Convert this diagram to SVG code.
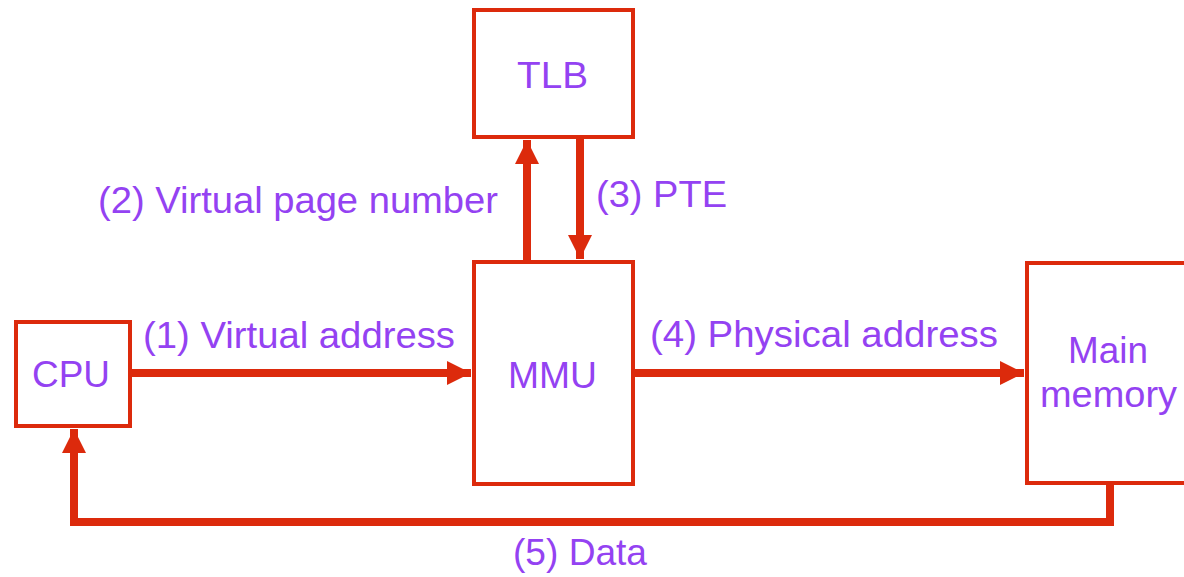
<svg xmlns="http://www.w3.org/2000/svg" width="1184" height="577" viewBox="0 0 1184 577">
<defs>
<style>
.box{fill:#fff;stroke:#dc2a0c;stroke-width:4}
.t{font-family:"Liberation Sans",Arial,sans-serif;font-size:37px;fill:#9442f2}
.c{fill:none;stroke:#dc2a0c;stroke-width:8;stroke-linejoin:miter}
</style>
<marker id="ah" viewBox="0 0 10 10" refX="10" refY="5" markerWidth="3.8" markerHeight="3" orient="auto" markerUnits="strokeWidth">
<path d="M0,0 L10,5 L0,10 Z" fill="#dc2a0c"/>
</marker>
</defs>
<rect width="1184" height="577" fill="#fff"/>
<g id="cpu"><rect class="box" x="16" y="322" width="114" height="104"/><text class="t" x="32" y="387" textLength="78" lengthAdjust="spacingAndGlyphs">CPU</text></g>
<g id="tlb"><rect class="box" x="474" y="10" width="159" height="127"/><text class="t" x="517" y="88" textLength="71" lengthAdjust="spacingAndGlyphs">TLB</text></g>
<g id="mmu"><rect class="box" x="474" y="262" width="159" height="222"/><text class="t" x="508" y="388" textLength="89" lengthAdjust="spacingAndGlyphs">MMU</text></g>
<g id="mem"><rect class="box" x="1027" y="263" width="170" height="220"/><text class="t" x="1068" y="363" textLength="80" lengthAdjust="spacingAndGlyphs">Main</text><text class="t" x="1040" y="407" textLength="137" lengthAdjust="spacingAndGlyphs">memory</text></g>
<g id="connectors">
<path class="c" d="M130,373 L471,373" marker-end="url(#ah)"/>
<path class="c" d="M527,262 L527,140" marker-end="url(#ah)"/>
<path class="c" d="M580,137 L580,259" marker-end="url(#ah)"/>
<path class="c" d="M633,373 L1024,373" marker-end="url(#ah)"/>
<path class="c" d="M1110,483 L1110,522 L74,522 L74,429" marker-end="url(#ah)"/>
</g>
<g id="labels">
<text class="t" x="143" y="348" textLength="312" lengthAdjust="spacingAndGlyphs">(1) Virtual address</text>
<text class="t" x="98" y="213" textLength="400" lengthAdjust="spacingAndGlyphs">(2) Virtual page number</text>
<text class="t" x="596" y="207" textLength="131" lengthAdjust="spacingAndGlyphs">(3) PTE</text>
<text class="t" x="650" y="347" textLength="348" lengthAdjust="spacingAndGlyphs">(4) Physical address</text>
<text class="t" x="513" y="565" textLength="134" lengthAdjust="spacingAndGlyphs">(5) Data</text>
</g>
</svg>
